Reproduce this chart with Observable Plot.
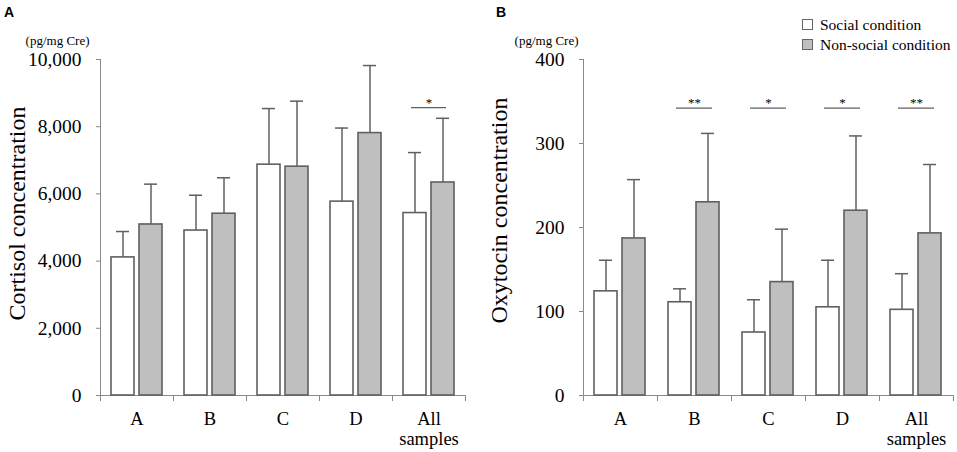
<!DOCTYPE html>
<html>
<head>
<meta charset="utf-8">
<script src="https://cdn.jsdelivr.net/npm/d3@7"></script>
<script src="https://cdn.jsdelivr.net/npm/@observablehq/plot@0.6"></script>
<style>
  body { margin: 0; background: white; }
  #wrap { position: relative; width: 957px; height: 452px; background: white; overflow: hidden; }
  .panel { position: absolute; top: 0; }
  .tag { position: absolute; font: bold 14px "Liberation Sans", Arial, sans-serif; }
  #legend { position: absolute; left: 802px; top: 15px; font: 15.5px "Liberation Serif", "Times New Roman", serif; line-height: 19.5px; }
  #legend .sw { display: inline-block; width: 9px; height: 9px; border: 1px solid #666; margin-right: 7px; vertical-align: -0px; }
</style>
</head>
<body>
<div id="wrap">
  <div class="panel" id="pA" style="left:0px"></div>
  <div class="panel" id="pB" style="left:479px"></div>
  <div class="tag" style="left:4px; top:4px">A</div>
  <div class="tag" style="left:496px; top:4px">B</div>
  <div id="legend"></div>
</div>
<script>
// ---- data ----
const categories = ["A", "B", "C", "D", "All samples"];
const conditions = ["Social condition", "Non-social condition"];
const conditionColors = ["white", "#bfbfbf"];

const cortisolSocial = [4110, 4910, 6870, 5770, 5430];
const cortisolSocialSD = [770, 1050, 1670, 2190, 1800];
const cortisolNonSocial = [5090, 5410, 6810, 7810, 6340];
const cortisolNonSocialSD = [1200, 1070, 1950, 2010, 1910];
const cortisolTicks = [0, 2000, 4000, 6000, 8000, 10000];
const cortisolSig = [{cat: "All samples", label: "*"}];
const cortisolSigLevel = 8570;

const oxytocinSocial = [124, 111, 75, 105, 102];
const oxytocinSocialSD = [37, 16, 39, 56, 43];
const oxytocinNonSocial = [187, 230, 135, 220, 193];
const oxytocinNonSocialSD = [70, 82, 63, 89, 82];
const oxytocinTicks = [0, 100, 200, 300, 400];
const oxytocinSig = [
  {cat: "B", label: "**"},
  {cat: "C", label: "*"},
  {cat: "D", label: "*"},
  {cat: "All samples", label: "**"}
];
const oxytocinSigLevel = 342;

const unitLabel = "(pg/mg Cre)";

function rowsOf(social, socialSD, non, nonSD) {
  return categories.flatMap((c, i) => [
    {cat: c, cond: conditions[0], v: social[i], sd: socialSD[i]},
    {cat: c, cond: conditions[1], v: non[i], sd: nonSD[i]}
  ]);
}

function panel(o) {
  const rows = rowsOf(o.social, o.socialSD, o.non, o.nonSD);
  const frameH = 452 - 59 - 57;
  const axisGrey = "#8a8a8a";
  const barStroke = "#606060";
  return Plot.plot({
    width: o.width,
    height: 452,
    marginLeft: o.marginLeft,
    marginRight: o.marginRight,
    marginTop: 59,
    marginBottom: 57,
    style: {fontFamily: "'Liberation Serif', 'Times New Roman', serif", background: "white", color: "black"},
    fx: {domain: categories, padding: 0, label: null},
    x: {domain: conditions, paddingInner: 0.17, paddingOuter: 0.38, axis: null},
    y: {domain: [0, o.ticks[o.ticks.length - 1]], label: null},
    color: {domain: conditions, range: conditionColors},
    marks: [
      Plot.axisY({ticks: o.ticks, tickSize: 4, tickPadding: 15, tickFormat: d3.format(","), label: null, fontSize: 19.5, stroke: axisGrey, fill: "black"}),
      Plot.axisFx({anchor: "bottom", tickSize: 0, tickPadding: 15, label: null, fontSize: 18.5, lineHeight: 1.08, fill: "black", tickFormat: d => d.replace(" ", "\n")}),
      Plot.frame({anchor: "left", facetAnchor: "left", stroke: axisGrey}),
      Plot.frame({anchor: "left", insetTop: frameH, insetBottom: -5, stroke: axisGrey}),
      Plot.frame({anchor: "right", insetTop: frameH, insetBottom: -5, stroke: axisGrey}),
      Plot.ruleY([0], {stroke: axisGrey}),
      Plot.ruleX(rows, {fx: "cat", x: "cond", y1: "v", y2: d => d.v + d.sd, stroke: barStroke, strokeWidth: 1.5}),
      Plot.tickY(rows, {fx: "cat", x: "cond", y: d => d.v + d.sd, insetLeft: 5, insetRight: 5, stroke: barStroke, strokeWidth: 1.5}),
      Plot.barY(rows, {fx: "cat", x: "cond", y: "v", fill: "cond", stroke: barStroke, strokeWidth: 1.6}),
      Plot.ruleY(o.sig, {fx: "cat", y: () => o.sigLevel, insetLeft: 19, insetRight: 19, stroke: barStroke, strokeWidth: 1.2}),
      Plot.text(o.sig, {fx: "cat", y: () => o.sigLevel, text: "label", lineAnchor: "bottom", dy: -1, fontSize: 13, fill: "black"}),
      Plot.text([{cat: "A", t: o.title}], {fx: "cat", text: "t", frameAnchor: "left", rotate: -90, lineAnchor: "bottom", textAnchor: "middle", dx: o.titleDx, dy: o.titleDy, fontSize: 24, fill: "black"}),
      Plot.text([{cat: "A", t: unitLabel}], {fx: "cat", text: "t", frameAnchor: "top-left", textAnchor: "end", lineAnchor: "middle", dx: o.unitDx, dy: -19, fontSize: 13, fill: "black"})
    ]
  });
}

document.getElementById("pA").append(panel({
  width: 479, marginLeft: 99, marginRight: 13,
  social: cortisolSocial, socialSD: cortisolSocialSD, non: cortisolNonSocial, nonSD: cortisolNonSocialSD,
  ticks: cortisolTicks, sig: cortisolSig, sigLevel: cortisolSigLevel,
  title: "Cortisol concentration", titleDx: -76, titleDy: -14, unitDx: -11
}));

document.getElementById("pB").append(panel({
  width: 478, marginLeft: 103, marginRight: 4,
  social: oxytocinSocial, socialSD: oxytocinSocialSD, non: oxytocinNonSocial, nonSD: oxytocinNonSocialSD,
  ticks: oxytocinTicks, sig: oxytocinSig, sigLevel: oxytocinSigLevel,
  title: "Oxytocin concentration", titleDx: -77, titleDy: -17, unitDx: -5
}));

const legend = document.getElementById("legend");
conditions.forEach((c, i) => {
  const row = document.createElement("div");
  const sw = document.createElement("span");
  sw.className = "sw";
  sw.style.background = conditionColors[i];
  row.append(sw, document.createTextNode(c));
  legend.append(row);
});
</script>
</body>
</html>
